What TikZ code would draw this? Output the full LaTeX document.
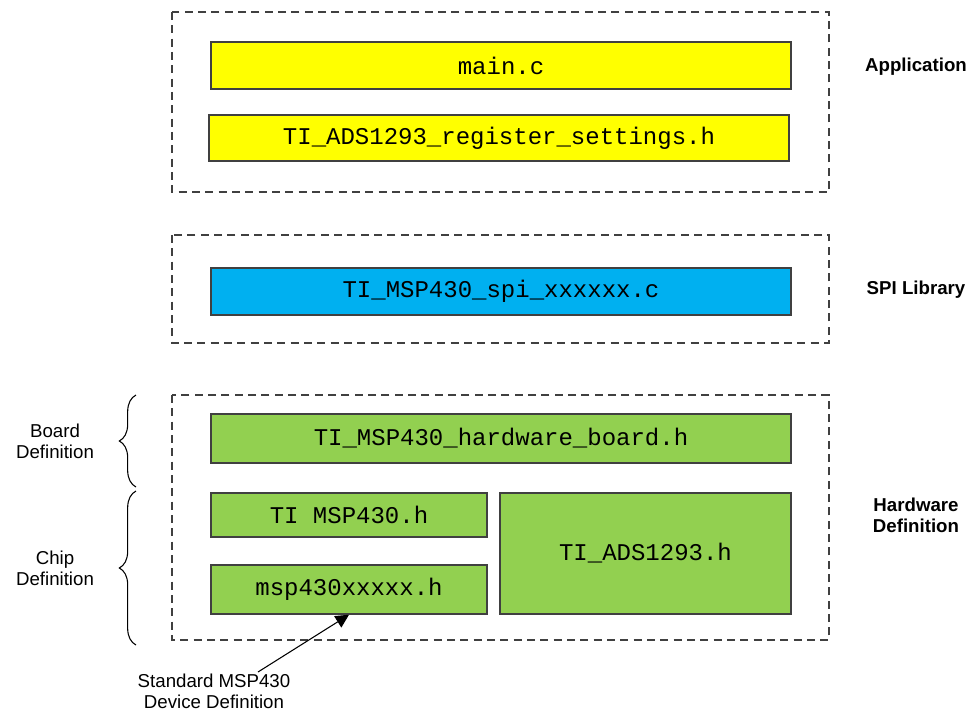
\documentclass[tikz,border=0pt]{standalone}
\usepackage{fontspec}
\setsansfont{Liberation Sans}
\setmonofont{Liberation Mono}
\usetikzlibrary{arrows.meta,decorations.pathreplacing}
\definecolor{appyellow}{HTML}{FFFF00}
\definecolor{spiblue}{HTML}{00B0F0}
\definecolor{hwgreen}{HTML}{92D050}
\definecolor{boxline}{HTML}{404040}
\tikzset{
  filebox/.style={draw=boxline,line width=1.1pt,inner sep=0pt,font=\ttfamily\fontsize{18}{20}\selectfont},
  layer/.style={draw=boxline,line width=0.8pt,dash pattern=on 6pt off 4pt},
  side/.style={font=\sffamily\fontsize{14}{15.75}\selectfont,align=center},
  layername/.style={side,font=\sffamily\bfseries\fontsize{14}{15.75}\selectfont},
  curly/.style={decorate,decoration={brace,amplitude=12.5pt},line width=0.8pt}
}
\begin{document}
\begin{tikzpicture}[x=0.75pt,y=-0.75pt]
    \useasboundingbox (0,0) rectangle (969,713);
    % layers
    \draw[layer] (172,12) rectangle (829,192);
    \draw[layer] (172,235) rectangle (829,343);
    \draw[layer] (172,395) rectangle (829,640);
    % files
    \node[filebox,fill=appyellow,minimum width=435pt,minimum height=35.25pt] (mainc) at (501,65.5) {main.c};
    \node[filebox,fill=appyellow,minimum width=435pt,minimum height=34.5pt] (regset) at (499,138) {TI\_ADS1293\_register\_settings.h};
    \node[filebox,fill=spiblue,minimum width=435pt,minimum height=35.25pt] (spilib) at (501,291.5) {TI\_MSP430\_spi\_xxxxxx.c};
    \node[filebox,fill=hwgreen,minimum width=435pt,minimum height=36.75pt] (board) at (501,438.5) {TI\_MSP430\_hardware\_board.h};
    \node[filebox,fill=hwgreen,minimum width=207pt,minimum height=33pt] (timsp) at (349,515) {TI MSP430.h};
    \node[filebox,fill=hwgreen,minimum width=207pt,minimum height=36.75pt] (msp) at (349,589.5) {msp430xxxxx.h};
    \node[filebox,fill=hwgreen,minimum width=218.25pt,minimum height=90.75pt] (ads) at (645.5,553.5) {TI\_ADS1293.h};
    % layer names
    \node[layername] (app) at (916,67) {Application};
    \node[layername] (spi) at (916,290) {SPI Library};
    \node[layername] (hw) at (916,515) {Hardware\\Definition};
    % braces
    \draw[curly] (136,487) -- (136,395);
    \draw[curly] (136,645) -- (136,491);
    \node[side] (boarddef) at (55,441) {Board\\Definition};
    \node[side] (chipdef) at (55,568) {Chip\\Definition};
    % pointer
    \node[side] (std) at (214,691) {Standard MSP430\\Device Definition};
    \coordinate (stdtail) at (258,672);
    \draw[-{Triangle[length=10pt,width=10pt]},line width=0.8pt] (stdtail) -- (msp.south);
\end{tikzpicture}
\end{document}
